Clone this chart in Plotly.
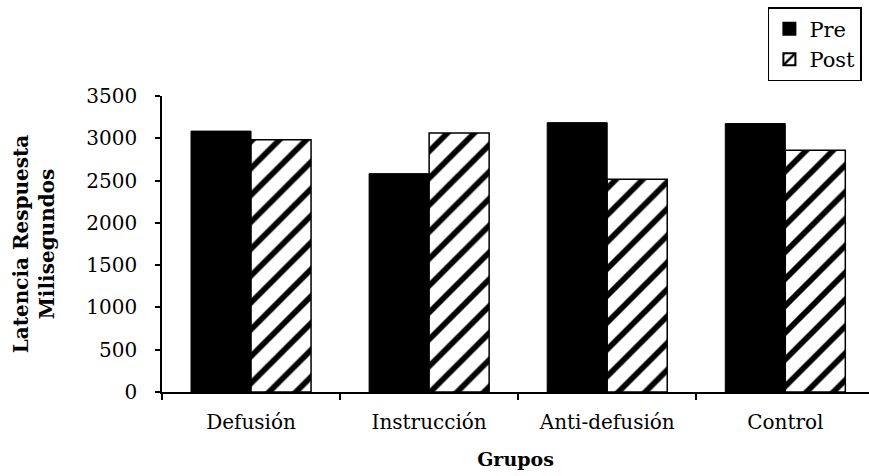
import plotly.graph_objects as go

# Response latency (ms) per group, before and after the intervention
grupos = ["Defusión", "Instrucción", "Anti-defusión", "Control"]
pre = [3085, 2582, 3185, 3174]
post = [2984, 3063, 2515, 2858]
y_ticks = [0, 500, 1000, 1500, 2000, 2500, 3000, 3500]

FONT = "DejaVu Serif"

fig = go.Figure()
fig.add_trace(go.Bar(
    x=grupos, y=pre, name="Pre",
    marker=dict(color="black", line=dict(color="black", width=1)),
))
fig.add_trace(go.Bar(
    x=grupos, y=post, name="Post",
    marker=dict(
        color="white",
        line=dict(color="black", width=1.5),
        pattern=dict(shape="/", fgcolor="black", bgcolor="white",
                     size=19, solidity=0.3, fillmode="replace"),
    ),
))

fig.update_layout(
    width=869, height=476,
    margin=dict(l=162, r=0, t=96, b=84),
    paper_bgcolor="white", plot_bgcolor="white",
    barmode="group", bargap=0.326, bargroupgap=0,
    font=dict(family=FONT, size=20, color="black"),
    showlegend=True,
    legend=dict(
        x=0.857, xanchor="left", y=1.30, yanchor="top",
        bordercolor="black", borderwidth=1.5, bgcolor="white",
        font=dict(family=FONT, size=21, color="black"),
        tracegroupgap=0, itemsizing="constant",
        entrywidth=90, entrywidthmode="pixels",
    ),
)

fig.update_xaxes(
    type="category", range=[-0.5, 3.47],
    showline=True, linecolor="black", linewidth=1.5,
    ticks="outside", tickson="boundaries", ticklen=6, tickcolor="black",
    tickwidth=1.5, ticklabelstandoff=11,
    showgrid=False, zeroline=False,
    title=dict(text="<b>Grupos</b>", font=dict(family=FONT, size=19), standoff=20),
)
fig.update_yaxes(
    range=[0, 3500], tickvals=y_ticks,
    showline=True, linecolor="black", linewidth=1.5,
    ticks="outside", ticklen=5, tickcolor="black", tickwidth=1.5,
    ticklabelstandoff=14,
    showgrid=False, zeroline=False,
    title=dict(text="<b>Latencia Respuesta<br>Milisegundos</b>",
               font=dict(family=FONT, size=20), standoff=26),
)

fig.write_html("out.html")
